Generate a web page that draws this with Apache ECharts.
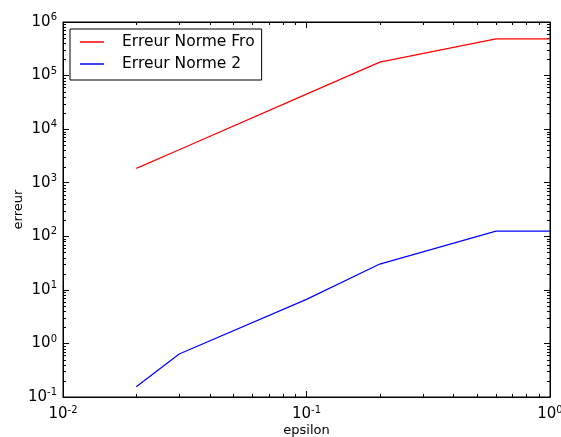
<!DOCTYPE html>
<html><head><meta charset="utf-8">
<script src="https://cdn.jsdelivr.net/npm/echarts@6/dist/echarts.min.js"></script>
<style>html,body{margin:0;padding:0;background:#fff}#c{width:561px;height:437px}</style>
</head><body><div id="c"></div>
<script>
const epsilon = [0.02, 0.03, 0.1, 0.2, 0.6, 1.0];
const erreurFro = [1850, 4130, 45000, 178000, 484000, 484000];
const erreur2 = [0.155, 0.634, 6.65, 30.3, 125, 125];
const seriesNames = ['Erreur Norme Fro', 'Erreur Norme 2'];
const xMinorTicks = [0.02,0.03,0.04,0.05,0.06,0.07,0.08,0.09,0.2,0.3,0.4,0.5,0.6,0.7,0.8,0.9];
const yMinorTicks = [];
for (let e = -1; e < 6; e++) for (let m = 2; m <= 9; m++) yMinorTicks.push(m * Math.pow(10, e));

const FONT = 'DejaVu Sans';
function expLabel(v) {
  const e = Math.round(Math.log10(v));
  return '{b|10}{s|' + e + '}';
}
const rich = {
  b: {fontFamily: FONT, fontSize: 15, color: '#000'},
  s: {fontFamily: FONT, fontSize: 10, color: '#000', verticalAlign: 'bottom', padding: [0, 0, 9, 0]}
};
const axisCommon = {
  type: 'log', logBase: 10,
  axisLine: {show: true, lineStyle: {color: '#000', width: 1}},
  axisTick: {show: true, inside: true, length: 6, lineStyle: {color: '#000'}},
  splitLine: {show: false}
};
function minorRender(dir) {
  return function (params, api) {
    const cs = params.coordSys;
    const L = 3;
    const style = {stroke: '#000', lineWidth: 1};
    if (dir === 'x') {
      const px = Math.round(api.coord([api.value(0), 1])[0]) + 0.5;
      return {type: 'group', children: [
        {type: 'line', shape: {x1: px, y1: cs.y + cs.height, x2: px, y2: cs.y + cs.height - L}, style},
        {type: 'line', shape: {x1: px, y1: cs.y, x2: px, y2: cs.y + L}, style}
      ]};
    } else {
      const py = Math.round(api.coord([0.1, api.value(1)])[1]) + 0.5;
      return {type: 'group', children: [
        {type: 'line', shape: {x1: cs.x, y1: py, x2: cs.x + L, y2: py}, style},
        {type: 'line', shape: {x1: cs.x + cs.width, y1: py, x2: cs.x + cs.width - L, y2: py}, style}
      ]};
    }
  };
}
const chart = echarts.init(document.getElementById('c'), null, {renderer: 'canvas'});
chart.setOption({
  animation: false,
  backgroundColor: '#fff',
  grid: {left: 63, right: 11, top: 22, bottom: 40, containLabel: false, outerBoundsMode: 'none',
         show: true, borderColor: '#000', borderWidth: 1},
  legend: {
    orient: 'vertical', left: 70, top: 29,
    backgroundColor: '#fff', borderColor: '#000', borderWidth: 1,
    padding: [5, 7, 8, 10], itemGap: 6, itemWidth: 24, itemHeight: 1.5, icon: 'rect',
    textStyle: {fontFamily: FONT, fontSize: 15.5, color: '#000', padding: [0, 0, 0, 13], lineHeight: 16},
    data: seriesNames
  },
  xAxis: [
    Object.assign({}, axisCommon, {
      min: 0.01, max: 1, position: 'bottom',
      name: 'epsilon', nameLocation: 'middle', nameGap: 27, nameMoveOverlap: false,
      nameTextStyle: {fontFamily: FONT, fontSize: 13, color: '#000'},
      axisLabel: {formatter: expLabel, rich: rich, margin: 8}
    }),
    Object.assign({}, axisCommon, {min: 0.01, max: 1, position: 'top', axisLabel: {show: false}})
  ],
  yAxis: [
    Object.assign({}, axisCommon, {
      min: 0.1, max: 1e6, interval: 1, position: 'left',
      name: 'erreur', nameLocation: 'middle', nameGap: 38, nameMoveOverlap: false,
      nameTextStyle: {fontFamily: FONT, fontSize: 13, color: '#000'},
      axisLabel: {formatter: expLabel, rich: rich, margin: 6}
    }),
    Object.assign({}, axisCommon, {min: 0.1, max: 1e6, interval: 1, position: 'right', axisLabel: {show: false}})
  ],
  series: [
    {name: seriesNames[0], type: 'line', data: epsilon.map((x, i) => [x, erreurFro[i]]),
     symbol: 'none', lineStyle: {color: '#ff0000', width: 1.2}, itemStyle: {color: '#ff0000'}},
    {name: seriesNames[1], type: 'line', data: epsilon.map((x, i) => [x, erreur2[i]]),
     symbol: 'none', lineStyle: {color: '#0000ff', width: 1.2}, itemStyle: {color: '#0000ff'}},
    {type: 'custom', silent: true, clip: false, renderItem: minorRender('x'),
     data: xMinorTicks.map(v => [v, 1])},
    {type: 'custom', silent: true, clip: false, renderItem: minorRender('y'),
     data: yMinorTicks.map(v => [0.1, v])}
  ]
});
</script></body></html>
